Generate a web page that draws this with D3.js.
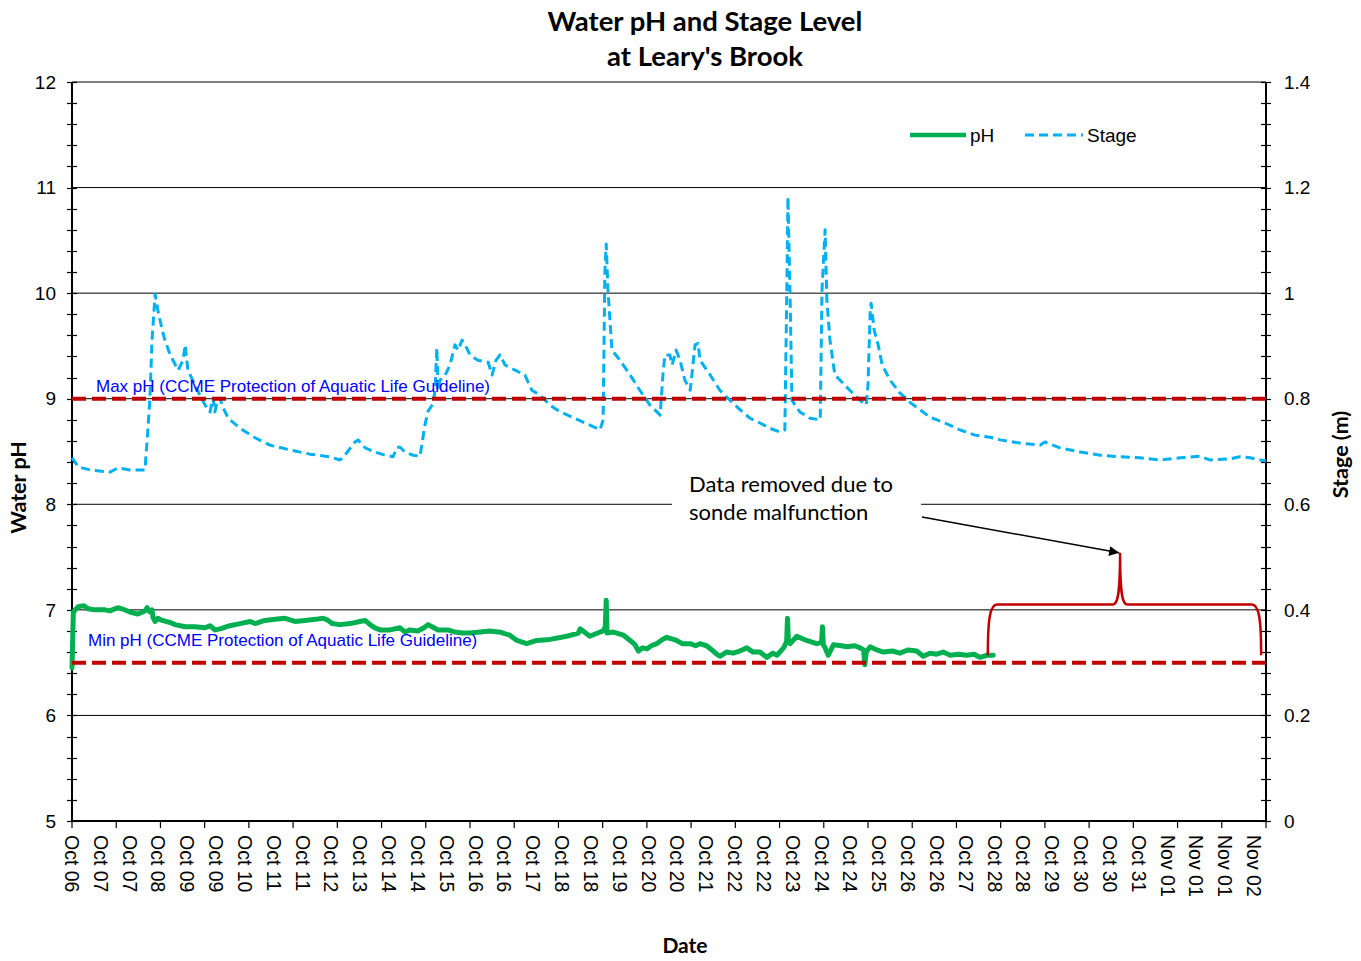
<!DOCTYPE html>
<html>
<head>
<meta charset="utf-8">
<script src="https://cdn.jsdelivr.net/npm/d3@7/dist/d3.min.js"></script>
<style>
  html, body { margin: 0; padding: 0; background: #fff; }
  svg { display: block; }
</style>
</head>
<body>
<svg id="chart" width="1361" height="961"></svg>
<script>
// ---------------- DATA ----------------
const titleLines = ["Water pH and Stage Level", "at Leary's Brook"];
const xLabels = ["Oct 06","Oct 07","Oct 07","Oct 08","Oct 09","Oct 09","Oct 10","Oct 11","Oct 11","Oct 12",
  "Oct 13","Oct 14","Oct 14","Oct 15","Oct 16","Oct 16","Oct 17","Oct 18","Oct 18","Oct 19",
  "Oct 20","Oct 20","Oct 21","Oct 22","Oct 22","Oct 23","Oct 24","Oct 24","Oct 25","Oct 26",
  "Oct 26","Oct 27","Oct 28","Oct 28","Oct 29","Oct 30","Oct 30","Oct 31","Nov 01","Nov 01",
  "Nov 01","Nov 02"];
const leftTicks = [5, 6, 7, 8, 9, 10, 11, 12];
const rightTicks = [0, 0.2, 0.4, 0.6, 0.8, 1.0, 1.2, 1.4];
const rightTickLabels = ["0", "0.2", "0.4", "0.6", "0.8", "1", "1.2", "1.4"];

// days since start of axis (axis spans 27 days)
const phDays = [0,0.03,0.14,0.27,0.36,0.52,0.75,0.86,0.97,1.04,1.13,1.31,1.49,1.65,1.70,1.76,1.81,1.83,1.88,1.94,
  2.04,2.22,2.33,2.56,2.78,3.01,3.12,3.23,3.35,3.57,3.80,4.03,4.14,4.36,4.59,4.82,5.04,5.27,5.50,5.68,
  5.79,5.88,6.06,6.29,6.51,6.63,6.74,6.85,6.97,7.19,7.42,7.53,7.64,7.82,7.96,8.05,8.14,8.28,8.50,8.66,
  8.82,9.00,9.23,9.45,9.63,9.68,9.90,10.06,10.28,10.51,10.81,11.19,11.45,11.49,11.71,11.94,12.01,12.06,12.08,12.10,
  12.24,12.47,12.62,12.73,12.81,12.90,13.00,13.10,13.22,13.35,13.45,13.67,13.80,13.98,14.10,14.20,14.35,14.50,14.58,14.65,
  14.80,14.95,15.10,15.26,15.40,15.56,15.71,15.85,15.94,16.09,16.16,16.18,16.20,16.24,16.39,16.61,16.84,16.95,16.97,16.99,
  17.03,17.10,17.22,17.40,17.52,17.70,17.82,17.90,17.93,17.96,18.05,18.20,18.35,18.55,18.72,18.90,19.10,19.25,19.40,19.55,
  19.70,19.86,20.05,20.23,20.40,20.53,20.70,20.83];
const phValues = [6.45,6.98,7.03,7.04,7.01,7.00,7.00,6.99,7.01,7.02,7.01,6.98,6.96,6.99,7.02,6.98,7.00,6.93,6.89,6.92,
  6.90,6.88,6.86,6.84,6.84,6.83,6.85,6.81,6.82,6.85,6.87,6.89,6.87,6.90,6.91,6.92,6.89,6.90,6.91,6.92,
  6.90,6.87,6.86,6.87,6.89,6.90,6.86,6.83,6.81,6.81,6.83,6.79,6.81,6.80,6.83,6.86,6.84,6.81,6.81,6.79,
  6.78,6.78,6.79,6.80,6.79,6.79,6.76,6.71,6.68,6.71,6.72,6.75,6.78,6.82,6.75,6.79,6.80,6.84,7.09,6.78,
  6.79,6.76,6.71,6.67,6.61,6.64,6.63,6.66,6.68,6.72,6.74,6.71,6.68,6.68,6.66,6.68,6.66,6.61,6.58,6.56,
  6.60,6.59,6.61,6.64,6.60,6.60,6.55,6.59,6.57,6.64,6.70,6.92,6.70,6.68,6.75,6.71,6.68,6.69,6.84,6.67,
  6.64,6.57,6.67,6.66,6.65,6.66,6.64,6.62,6.48,6.60,6.65,6.62,6.60,6.61,6.59,6.62,6.61,6.56,6.59,6.58,
  6.60,6.57,6.58,6.57,6.58,6.55,6.57,6.57];

const stageDays = [0,0.14,0.41,0.86,1.04,1.31,1.65,1.70,1.76,1.81,1.88,1.94,2.04,2.10,2.22,2.40,2.51,2.56,2.62,2.78,
  2.89,3.01,3.12,3.19,3.23,3.30,3.35,3.39,3.53,3.80,4.14,4.48,4.93,5.38,5.83,6.06,6.17,6.40,6.47,6.63,
  6.85,7.08,7.26,7.35,7.42,7.53,7.71,7.87,7.98,8.05,8.16,8.21,8.25,8.28,8.32,8.44,8.55,8.66,8.73,8.82,
  8.89,9.00,9.18,9.41,9.50,9.59,9.68,9.79,10.02,10.24,10.40,10.58,10.81,11.04,11.37,11.71,11.94,12.01,12.05,12.08,
  12.12,12.21,12.39,12.62,12.84,13.07,13.30,13.37,13.41,13.52,13.57,13.66,13.75,13.86,13.98,14.09,14.16,14.20,14.43,14.65,
  14.88,15.11,15.33,15.56,15.78,16.01,16.12,16.17,16.19,16.24,16.28,16.35,16.46,16.69,16.92,16.96,17.03,17.07,17.14,17.25,
  17.37,17.59,17.82,17.96,18.00,18.05,18.07,18.14,18.23,18.32,18.50,18.72,18.95,19.18,19.40,19.74,20.08,20.42,20.76,20.99,
  21.44,21.89,22.00,22.34,22.80,23.25,23.70,24.15,24.60,25.06,25.51,25.73,26.19,26.41,26.64,27.00];
const stageValues = [0.688,0.671,0.665,0.661,0.669,0.665,0.665,0.722,0.797,0.911,0.998,0.968,0.930,0.911,0.883,0.854,0.873,0.902,0.854,0.826,
  0.807,0.788,0.775,0.801,0.775,0.801,0.801,0.788,0.763,0.744,0.726,0.712,0.703,0.695,0.690,0.684,0.693,0.718,0.722,0.707,
  0.699,0.693,0.690,0.708,0.708,0.699,0.693,0.691,0.750,0.776,0.790,0.816,0.896,0.816,0.835,0.845,0.864,0.902,0.892,0.911,
  0.902,0.883,0.873,0.869,0.845,0.873,0.883,0.864,0.854,0.845,0.816,0.807,0.788,0.775,0.763,0.750,0.741,0.760,1.040,1.093,
  1.006,0.892,0.873,0.845,0.816,0.788,0.769,0.854,0.883,0.883,0.864,0.892,0.873,0.835,0.816,0.902,0.905,0.873,0.845,0.816,
  0.797,0.779,0.763,0.754,0.744,0.737,0.741,1.040,1.182,0.987,0.797,0.788,0.775,0.763,0.760,1.006,1.120,0.987,0.911,0.845,
  0.835,0.816,0.797,0.788,0.826,0.967,0.981,0.930,0.902,0.864,0.835,0.811,0.793,0.779,0.765,0.754,0.741,0.731,0.727,0.722,
  0.716,0.712,0.718,0.707,0.699,0.693,0.690,0.688,0.684,0.688,0.691,0.684,0.686,0.690,0.688,0.682];

const maxPH = 9, minPH = 6.5;
const maxLabel = "Max pH (CCME Protection of Aquatic Life Guideline)";
const minLabel = "Min pH (CCME Protection of Aquatic Life Guideline)";
const noteLines = ["Data removed due to", "sonde malfunction"];
// annotation anchors (days, pH)
const braceDays = [20.71, 20.92, 23.54, 23.70, 23.86, 26.68, 26.89];
const bracePH = { bottom: 6.57, top: 7.05, peak: 7.54 };
const arrowFrom = [19.22, 7.88], arrowTo = [23.68, 7.54];
const noteAnchor = [13.57, 8.0];

// ---------------- LAYOUT ----------------
const svg = d3.select("#chart");
const L = 72, R = 1266, T = 82, B = 821;
const x = d3.scaleLinear().domain([0, 27]).range([L, R]);
const yL = d3.scaleLinear().domain([5, 12]).range([B, T]);
const yR = d3.scaleLinear().domain([0, 1.4]).range([B, T]);
const labelStep = 26.73 / 41;
const tickFont = "'Liberation Sans', Arial, sans-serif";
const titleFont = "Lato, 'Open Sans', sans-serif";

// gridlines
svg.append("g").selectAll("line").data(leftTicks.filter(v => v > 5))
  .join("line")
  .attr("x1", L).attr("x2", R)
  .attr("y1", d => yL(d)).attr("y2", d => yL(d))
  .attr("stroke", "#000").attr("stroke-width", 1);

// axes lines
svg.append("line").attr("x1", L).attr("x2", L).attr("y1", T).attr("y2", B).attr("stroke", "#000").attr("stroke-width", 2);
svg.append("line").attr("x1", R).attr("x2", R).attr("y1", T).attr("y2", B).attr("stroke", "#000").attr("stroke-width", 2);
svg.append("line").attr("x1", L).attr("x2", R).attr("y1", B).attr("y2", B).attr("stroke", "#000").attr("stroke-width", 2);

// left ticks (major + minor, crossing)
const leftMinor = d3.range(5, 12.0001, 0.2);
svg.append("g").selectAll("line").data(leftMinor).join("line")
  .attr("x1", L - 5).attr("x2", L + 5)
  .attr("y1", d => Math.round(yL(d)) + 0.5).attr("y2", d => Math.round(yL(d)) + 0.5)
  .attr("stroke", "#000").attr("stroke-width", 1.2);
const rightMinor = d3.range(0, 1.4001, 0.04);
svg.append("g").selectAll("line").data(rightMinor).join("line")
  .attr("x1", R - 5).attr("x2", R + 5)
  .attr("y1", d => Math.round(yR(d)) + 0.5).attr("y2", d => Math.round(yR(d)) + 0.5)
  .attr("stroke", "#000").attr("stroke-width", 1.2);
// bottom ticks, daily
svg.append("g").selectAll("line").data(d3.range(0, 28)).join("line")
  .attr("x1", d => x(d)).attr("x2", d => x(d))
  .attr("y1", B).attr("y2", B + 7)
  .attr("stroke", "#000").attr("stroke-width", 1.2);

// left tick labels
svg.append("g").selectAll("text").data(leftTicks).join("text")
  .attr("x", 56).attr("y", d => yL(d)).attr("dy", "0.35em")
  .attr("text-anchor", "end")
  .style("font-family", tickFont).style("font-size", "19px")
  .text(d => d);
// right tick labels
svg.append("g").selectAll("text").data(rightTicks).join("text")
  .attr("x", 1284).attr("y", d => yR(d)).attr("dy", "0.35em")
  .attr("text-anchor", "start")
  .style("font-family", tickFont).style("font-size", "19px")
  .text((d, i) => rightTickLabels[i]);
// x labels rotated
svg.append("g").selectAll("text").data(xLabels).join("text")
  .attr("transform", (d, i) => `translate(${x(i * labelStep) - 7},835) rotate(90)`)
  .attr("text-anchor", "start")
  .style("font-family", tickFont).style("font-size", "19.5px")
  .text(d => d);

// series: stage (dashed blue, right axis)
const stagePts = stageDays.map((d, i) => [d, stageValues[i]]);
svg.append("path").datum(stagePts)
  .attr("d", d3.line().x(d => x(d[0])).y(d => yR(d[1])))
  .attr("fill", "none").attr("stroke", "#00B0F0").attr("stroke-width", 3)
  .attr("stroke-dasharray", "9,5").attr("stroke-linejoin", "round");

// series: pH (solid green, left axis)
const phPts = phDays.map((d, i) => [d, phValues[i]]);
svg.append("path").datum(phPts)
  .attr("d", d3.line().x(d => x(d[0])).y(d => yL(d[1])))
  .attr("fill", "none").attr("stroke", "#00B050").attr("stroke-width", 5)
  .attr("stroke-linejoin", "round").attr("stroke-linecap", "round");

// guideline lines
[maxPH, minPH].forEach(v => {
  svg.append("line").attr("x1", L).attr("x2", R).attr("y1", yL(v)).attr("y2", yL(v))
    .attr("stroke", "#C00000").attr("stroke-width", 4).attr("stroke-dasharray", "14,6");
});
svg.append("text").attr("x", 96).attr("y", yL(maxPH) - 7)
  .style("font-family", tickFont).style("font-size", "17px").attr("fill", "#0000FF").text(maxLabel);
svg.append("text").attr("x", 88).attr("y", yL(minPH) - 17)
  .style("font-family", tickFont).style("font-size", "17px").attr("fill", "#0000FF").text(minLabel);

// annotation note with white box
svg.append("rect").attr("x", x(noteAnchor[0])).attr("y", yL(noteAnchor[1]) - 34)
  .attr("width", 249).attr("height", 60).attr("fill", "#fff");
svg.append("g").selectAll("text").data(noteLines).join("text")
  .attr("x", x(noteAnchor[0]) + 17).attr("y", (d, i) => yL(noteAnchor[1]) - 12 + i * 28)
  .style("font-family", titleFont).style("font-size", "22px").attr("fill", "#000")
  .text(d => d);

// arrow
svg.append("defs").append("marker").attr("id", "ah")
  .attr("viewBox", "0 0 10 10").attr("refX", 10).attr("refY", 5)
  .attr("markerWidth", 13).attr("markerHeight", 10).attr("markerUnits", "userSpaceOnUse")
  .attr("orient", "auto")
  .append("path").attr("d", "M0,0 L10,5 L0,10 Z").attr("fill", "#000");
svg.append("line")
  .attr("x1", x(arrowFrom[0])).attr("y1", yL(arrowFrom[1]))
  .attr("x2", x(arrowTo[0])).attr("y2", yL(arrowTo[1]))
  .attr("stroke", "#000").attr("stroke-width", 1.5).attr("marker-end", "url(#ah)");

// brace
(function () {
  const xs = braceDays.map(x);
  const yb = yL(bracePH.bottom), yt = yL(bracePH.top), yp = yL(bracePH.peak);
  const p = d3.path();
  p.moveTo(xs[0], yb);
  p.bezierCurveTo(xs[0], yt + 15, xs[0] + 2, yt, xs[1], yt);
  p.lineTo(xs[2], yt);
  p.bezierCurveTo(xs[2] + 5, yt, xs[3], yt - 12, xs[3], yp);
  p.bezierCurveTo(xs[3], yt - 12, xs[4] - 5, yt, xs[4], yt);
  p.lineTo(xs[5], yt);
  p.bezierCurveTo(xs[6] - 2, yt, xs[6], yt + 15, xs[6], yb);
  svg.append("path").attr("d", p.toString()).attr("fill", "none")
    .attr("stroke", "#C00000").attr("stroke-width", 2.5);
})();

// legend
const lg = svg.append("g");
lg.append("line").attr("x1", 910).attr("x2", 966).attr("y1", 135).attr("y2", 135)
  .attr("stroke", "#00B050").attr("stroke-width", 4.5);
lg.append("text").attr("x", 970).attr("y", 135).attr("dy", "0.35em")
  .style("font-family", tickFont).style("font-size", "19px").text("pH");
lg.append("line").attr("x1", 1025).attr("x2", 1083).attr("y1", 135).attr("y2", 135)
  .attr("stroke", "#00B0F0").attr("stroke-width", 3).attr("stroke-dasharray", "9,5");
lg.append("text").attr("x", 1087).attr("y", 135).attr("dy", "0.35em")
  .style("font-family", tickFont).style("font-size", "19px").text("Stage");

// titles
svg.append("g").selectAll("text").data(titleLines).join("text")
  .attr("x", 705).attr("y", (d, i) => 31 + i * 35)
  .attr("text-anchor", "middle")
  .style("font-family", titleFont).style("font-weight", "bold").style("font-size", "27.5px")
  .text(d => d);
svg.append("text").attr("transform", `translate(26,${(T + B) / 2 + 36}) rotate(-90)`)
  .attr("text-anchor", "middle")
  .style("font-family", titleFont).style("font-weight", "bold").style("font-size", "21.5px")
  .text("Water pH");
svg.append("text").attr("transform", `translate(1348,${(T + B) / 2 + 3}) rotate(-90)`)
  .attr("text-anchor", "middle")
  .style("font-family", titleFont).style("font-weight", "bold").style("font-size", "21.5px")
  .text("Stage (m)");
svg.append("text").attr("x", 685).attr("y", 953)
  .attr("text-anchor", "middle")
  .style("font-family", titleFont).style("font-weight", "bold").style("font-size", "21px")
  .text("Date");
</script>
</body>
</html>
